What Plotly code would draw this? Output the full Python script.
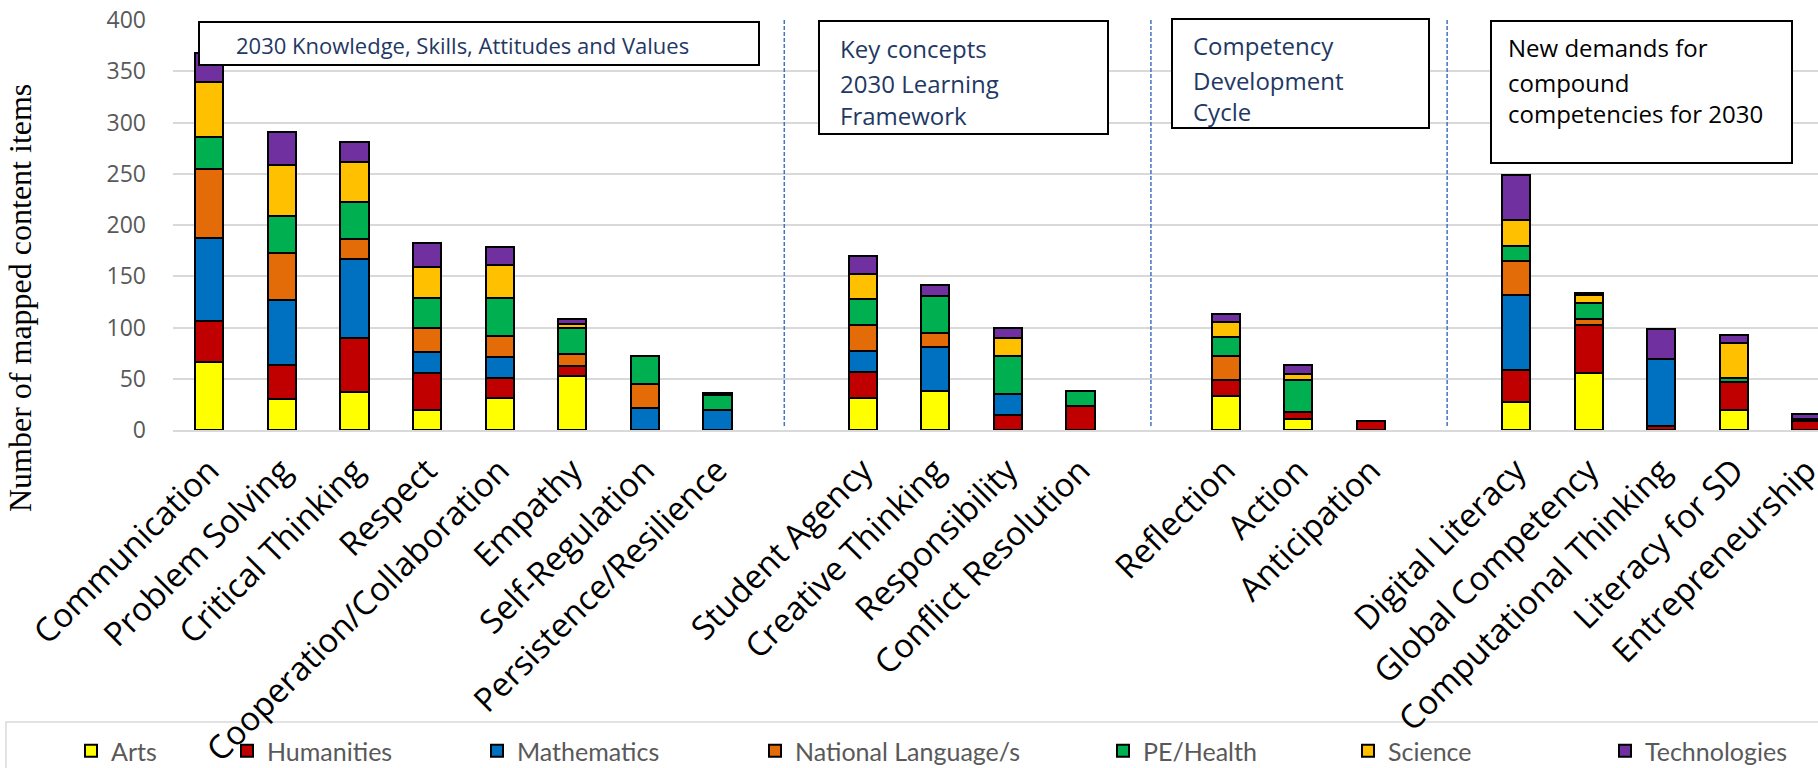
import plotly.graph_objects as go

categories = ["Communication", "Problem Solving", "Critical Thinking", "Respect",
              "Cooperation/Collaboration", "Empathy", "Self-Regulation", "Persistence/Resilience",
              " ",
              "Student Agency", "Creative Thinking", "Responsibility", "Conflict Resolution",
              "  ",
              "Reflection", "Action", "Anticipation",
              "   ",
              "Digital Literacy", "Global Competency", "Computational Thinking",
              "Literacy for SD", "Entrepreneurship"]

arts        = [66, 30, 37, 20, 31, 53, 0, 0, None, 31, 38, 0, 0, None, 33, 11, 0, None, 27, 56, 0, 20, 0]
humanities  = [40, 33, 53, 36, 20, 9, 0, 0, None, 26, 0, 15, 23, None, 16, 7, 9, None, 32, 46, 4, 27, 9]
mathematics = [81, 64, 77, 20, 20, 0, 21, 20, None, 20, 43, 20, 0, None, 0, 0, 0, None, 73, 0, 65, 0, 0]
national    = [68, 46, 19, 24, 21, 12, 24, 0, None, 25, 14, 0, 0, None, 23, 0, 0, None, 33, 6, 0, 0, 0]
pe_health   = [31, 36, 36, 29, 37, 26, 27, 14, None, 26, 36, 37, 15, None, 19, 31, 0, None, 15, 16, 0, 4, 0]
science     = [54, 50, 39, 30, 32, 3, 0, 0, None, 24, 0, 18, 0, None, 14, 6, 0, None, 25, 8, 0, 34, 2]
technology  = [28, 32, 20, 23, 18, 5, 0, 2, None, 18, 10, 10, 0, None, 8, 8, 0, None, 44, 2, 30, 8, 5]

series_names = ["Arts", "Humanities", "Mathematics", "National Language/s", "PE/Health", "Science", "Technologies"]
series_values = [arts, humanities, mathematics, national, pe_health, science, technology]
series_colors = ["#FFFF00", "#C00000", "#0070C0", "#E36C09", "#00B050", "#FFC000", "#7030A0"]

y_ticks = [0, 50, 100, 150, 200, 250, 300, 350, 400]
divider_slots = [7.92, 12.97, 17.05]

box_texts = [
    (["2030 Knowledge, Skills, Attitudes and Values"], "#1F3864", 22),
    (["Key concepts", "2030 Learning", "Framework"], "#1F3864", 24),
    (["Competency", "Development", "Cycle"], "#1F3864", 24),
    (["New demands for", "compound", "competencies for 2030"], "#000000", 24),
]

# ---- layout geometry (pixels) ----
W, H = 1818, 768
L, R, T, B = 173, 0, 20, 338
plot_w = W - L - R
plot_h = H - T - B
slot_px = 72.6

def px_x(px):
    return (px - L) / plot_w

def px_y(py):
    return (H - B - py) / plot_h

def slot_x(px):
    return (px - L) / slot_px - 0.5

# legend swatch left edges (pixels)
legend_px = [87, 243, 493, 771, 1119, 1364, 1621]
legend_keys = ["legend", "legend2", "legend3", "legend4", "legend5", "legend6", "legend7"]

fig = go.Figure()
for name, vals, col, lk in zip(series_names, series_values, series_colors, legend_keys):
    fig.add_trace(go.Bar(
        x=categories, y=vals, name=name, legend=lk, showlegend=True,
        marker=dict(color=col, line=dict(color="#000000", width=2)),
    ))

shapes = []
for s in divider_slots:
    shapes.append(dict(type="line", xref="x", yref="y", x0=s, x1=s, y0=4, y1=400,
                       line=dict(color="#4472C4", width=1.5, dash="4px,2px")))

# text boxes (pixel extents)
box_px = [
    (199, 759, 22, 65),
    (819, 1108, 21, 134),
    (1172, 1429, 19, 128),
    (1491, 1792, 21, 163),
]
line_px = [
    (234, [45]),
    (838, [49, 83, 115]),
    (1191, [46, 80, 112]),
    (1506, [48, 82, 114]),
]
annotations = []
for (x0, x1, y0, y1), (tx, ys), (lines, tcol, fs) in zip(box_px, line_px, box_texts):
    shapes.append(dict(type="rect", xref="paper", yref="paper",
                       x0=px_x(x0), x1=px_x(x1), y0=px_y(y1), y1=px_y(y0),
                       line=dict(color="#000000", width=2), fillcolor="#FFFFFF", layer="above"))
    for text, yy in zip(lines, ys):
        annotations.append(dict(text=text, xref="paper", yref="paper", x=px_x(tx), y=px_y(yy),
                                xanchor="left", yanchor="middle", showarrow=False,
                                font=dict(family="Open Sans", size=fs, color=tcol)))

# legend frame
shapes.append(dict(type="rect", xref="paper", yref="paper",
                   x0=px_x(6), x1=px_x(1830), y0=px_y(790), y1=px_y(722),
                   line=dict(color="#D9D9D9", width=1.5), layer="below"))

annotations.append(dict(text="Number of mapped content items", xref="paper", yref="paper",
                        x=px_x(20), y=px_y(298), textangle=-90, showarrow=False,
                        xanchor="center", yanchor="middle",
                        font=dict(family="Liberation Serif", size=32, color="#000000")))

legend_font = dict(family="Lato", size=25, color="#595959")
legends = {}
for lk, lx in zip(legend_keys, legend_px):
    legends[lk] = dict(orientation="h", x=px_x(lx - 16), y=px_y(751), xanchor="left", yanchor="middle",
                       font=legend_font, bgcolor="rgba(0,0,0,0)", borderwidth=0)

fig.update_layout(
    width=W, height=H, showlegend=True,
    margin=dict(l=L, r=R, t=T, b=B, autoexpand=False),
    barmode="stack", bargap=0.61,
    plot_bgcolor="#FFFFFF", paper_bgcolor="#FFFFFF",
    shapes=shapes, annotations=annotations,
    xaxis=dict(type="category", range=[-0.5, slot_x(W)], tickangle=-45,
               tickfont=dict(family="Open Sans", size=33, color="#000000"),
               showgrid=False, showline=True, linecolor="#D9D9D9", linewidth=2,
               ticks="", ticklabelstandoff=6, automargin=False),
    yaxis=dict(range=[0, 400], tickvals=y_ticks, showgrid=True, gridcolor="#D9D9D9", gridwidth=1.5,
               zeroline=False, showline=False, ticks="", ticklabelstandoff=26,
               tickfont=dict(family="Open Sans", size=23, color="#595959"), automargin=False),
    **legends,
)

fig.write_html("out.html", config={"displayModeBar": False},
               post_script="document.body.style.margin='0';document.body.style.overflow='hidden';")
